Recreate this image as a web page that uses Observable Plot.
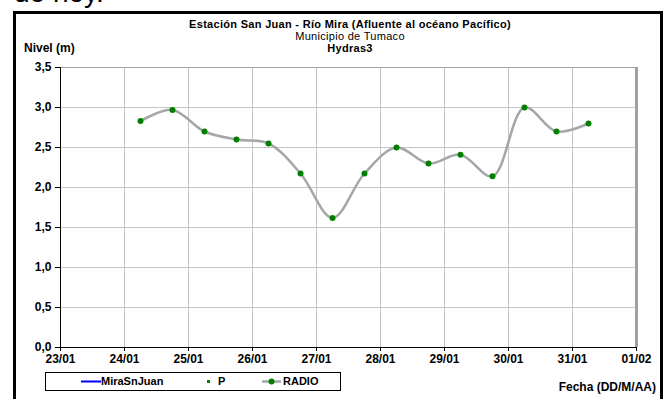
<!DOCTYPE html>
<html><head><meta charset="utf-8">
<script src="https://cdn.jsdelivr.net/npm/d3@7"></script>
<script src="https://cdn.jsdelivr.net/npm/@observablehq/plot@0.6"></script>
<style>
body{margin:0;background:#fff;font-family:"Liberation Sans",Arial,sans-serif;color:#000;}
#wrap{position:relative;width:665px;height:399px;overflow:hidden;background:#fff;}
#chart{position:absolute;left:0;top:0;}
#frame{position:absolute;left:13px;top:11px;width:644px;height:420px;border:3px solid #000;}
#hoy{position:absolute;left:14px;top:-23px;font-size:28px;white-space:nowrap;}
.t{position:absolute;white-space:nowrap;font-size:12px;}
.c{left:0;width:700px;text-align:center;font-size:11px;line-height:12px;letter-spacing:0.3px;}
#legend{position:absolute;left:45px;top:372px;width:294px;height:17px;border:1px solid #000;font-size:11px;font-weight:bold;}
#legend span{position:absolute;top:2px;}
#legend svg{position:absolute;top:0;}
</style></head><body>
<div id="wrap">
  <div id="hoy">de hoy.</div>
  <div id="frame"></div>
  <div id="chart"></div>
  <div class="t c" id="t1" style="top:18px;font-weight:bold;">Estación San Juan  - Río Mira (Afluente al océano Pacífico)</div>
  <div class="t c" id="t2" style="top:30px;">Municipio de Tumaco</div>
  <div class="t c" id="t3" style="top:42px;font-weight:bold;">Hydras3</div>
  <div class="t" id="ylab" style="left:24px;top:41px;font-weight:bold;">Nivel (m)</div>
  <div class="t" id="xlab" style="right:9px;top:380px;font-weight:bold;">Fecha (DD/M/AA)</div>
  <div id="legend"></div>
</div>
<script>
// ---- data ----
const times = [
  "2013-01-24T06:00Z","2013-01-24T18:00Z","2013-01-25T06:00Z","2013-01-25T18:00Z",
  "2013-01-26T06:00Z","2013-01-26T18:00Z","2013-01-27T06:00Z","2013-01-27T18:00Z",
  "2013-01-28T06:00Z","2013-01-28T18:00Z","2013-01-29T06:00Z","2013-01-29T18:00Z",
  "2013-01-30T06:00Z","2013-01-30T18:00Z","2013-01-31T06:00Z"
];
const nivel = [2.83, 2.97, 2.70, 2.60, 2.55, 2.175, 1.62, 2.175, 2.50, 2.30, 2.41, 2.14, 3.00, 2.70, 2.80];
const xTickLabels = ["23/01","24/01","25/01","26/01","27/01","28/01","29/01","30/01","31/01","01/02"];
const xTickDates = ["2013-01-23","2013-01-24","2013-01-25","2013-01-26","2013-01-27","2013-01-28","2013-01-29","2013-01-30","2013-01-31","2013-02-01"];
const yTicks = [0, 0.5, 1.0, 1.5, 2.0, 2.5, 3.0, 3.5];
const legendLabels = ["MiraSnJuan", "P", "RADIO"];

const data = times.map((t, i) => ({t: new Date(t), v: nivel[i]}));
const xt = xTickDates.map(d => new Date(d + "T00:00Z"));
const labelOf = new Map(xt.map((d, i) => [+d, xTickLabels[i]]));
const d0 = xt[0], d1 = xt[xt.length - 1];

const chart = Plot.plot({
  width: 665, height: 399,
  marginLeft: 60, marginRight: 29, marginTop: 67, marginBottom: 52,
  x: {type: "utc", domain: [d0, d1], label: null},
  y: {domain: [0, 3.5], label: null},
  style: {fontFamily: "'Liberation Sans', Arial, sans-serif", fontSize: "12px", fontWeight: "bold", color: "#000", background: "transparent"},
  marks: [
    Plot.gridX(xt.slice(1, -1), {stroke: "#c4c4c4", strokeOpacity: 1}),
    Plot.gridY(yTicks.slice(1, -1), {stroke: "#c4c4c4", strokeOpacity: 1}),
    Plot.ruleY([3.5], {stroke: "#a0a0a0", strokeWidth: 1}),
    Plot.ruleX([d1], {stroke: "#a0a0a0", strokeWidth: 3}),
    Plot.axisX(xt, {tickSize: 4, tickPadding: 3, tickFormat: d => labelOf.get(+d), stroke: "#000", fill: "#000"}),
    Plot.axisY(yTicks, {tickSize: 5, tickPadding: 4, tickFormat: d => d.toFixed(1).replace(".", ","), stroke: "#000", fill: "#000"}),
    Plot.ruleX([d0], {stroke: "#000", strokeWidth: 1}),
    Plot.ruleY([0], {stroke: "#000", strokeWidth: 1}),
    Plot.line(data, {x: "t", y: "v", curve: "catmull-rom", stroke: "#a6a6a6", strokeWidth: 2.5}),
    Plot.dot(data, {x: "t", y: "v", r: 3, fill: "#008000", stroke: "none"})
  ]
});
document.getElementById("chart").appendChild(chart);

// legend
const lg = document.getElementById("legend");
lg.innerHTML =
  `<svg width="22" height="17" style="left:35px"><line x1="0" y1="8.5" x2="20" y2="8.5" stroke="#0000ff" stroke-width="2"/></svg>` +
  `<span style="left:55px">${legendLabels[0]}</span>` +
  `<svg width="10" height="17" style="left:161px"><rect x="0" y="7" width="3" height="3" fill="#008000"/></svg>` +
  `<span style="left:172px">${legendLabels[1]}</span>` +
  `<svg width="22" height="17" style="left:216px"><line x1="0" y1="8.5" x2="19" y2="8.5" stroke="#a6a6a6" stroke-width="2.5"/><circle cx="9.5" cy="8.5" r="3" fill="#008000"/></svg>` +
  `<span style="left:237px">${legendLabels[2]}</span>`;
</script>
</body></html>
